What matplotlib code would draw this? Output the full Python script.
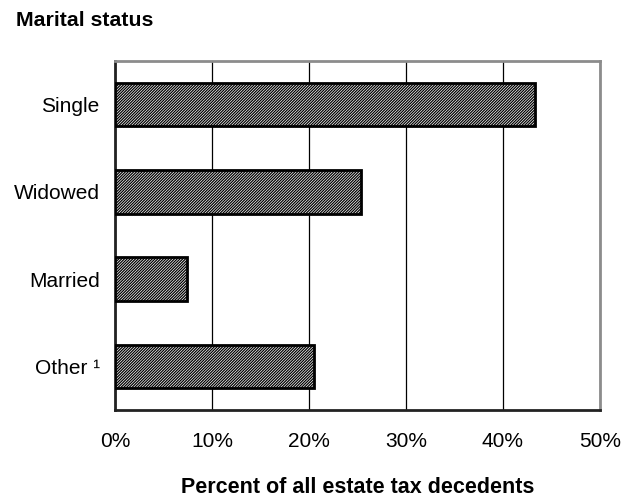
import matplotlib
matplotlib.use("Agg")
import matplotlib.pyplot as plt

plt.rcParams['font.family'] = ['Liberation Sans', 'DejaVu Sans']
plt.rcParams['hatch.linewidth'] = 0.9

categories = ['Single', 'Widowed', 'Married', 'Other ¹']
values = [43.3, 25.4, 7.4, 20.5]
xticks = [0, 10, 20, 30, 40, 50]
xtick_labels = ['0%', '10%', '20%', '30%', '40%', '50%']

fig = plt.figure(figsize=(6.3, 5.0), dpi=100)
ax = fig.add_axes([0.1825, 0.18, 0.7695, 0.698])

ypos = list(range(len(categories)))
ax.barh(ypos, values, height=0.5, color='white', edgecolor='black',
        hatch='/' * 12, linewidth=2.0, zorder=3)

ax.set_xlim(0, 50)
ax.set_ylim(len(categories) - 0.5, -0.5)
ax.set_yticks(ypos)
ax.set_yticklabels(categories, fontsize=15)
ax.set_xticks(xticks)
ax.set_xticklabels(xtick_labels, fontsize=15)
ax.tick_params(axis='both', length=0)
ax.tick_params(axis='x', pad=16)
ax.tick_params(axis='y', pad=11)

ax.grid(axis='x', color='black', linewidth=0.9, zorder=0)
for s in ['top', 'right']:
    ax.spines[s].set_color('#8c8c8c')
    ax.spines[s].set_linewidth(2)
for s in ['left', 'bottom']:
    ax.spines[s].set_color('#222222')
    ax.spines[s].set_linewidth(2)

# x axis title sits right at the bottom edge, centred under the plot
fig.text(0.5675, 0.004, 'Percent of all estate tax decedents', fontsize=15.5,
         fontweight='bold', ha='center', va='bottom')
fig.text(0.025, 0.96, 'Marital status', fontsize=15.3, fontweight='bold',
         va='center', ha='left')

fig.savefig('out.png', dpi=100)
